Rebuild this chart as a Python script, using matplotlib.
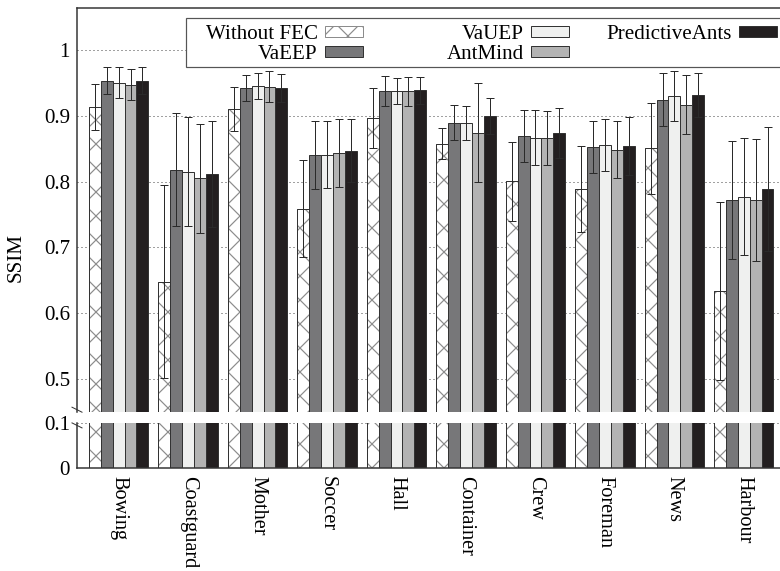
import matplotlib.pyplot as plt
import numpy as np
from matplotlib.patches import Rectangle

plt.rcParams['font.family'] = ['Liberation Serif', 'DejaVu Serif']
plt.rcParams['hatch.linewidth'] = 1.2

videos = ['Bowing', 'Coastguard', 'Mother', 'Soccer', 'Hall',
          'Container', 'Crew', 'Foreman', 'News', 'Harbour']
schemes = ['Without FEC', 'VaEEP', 'VaUEP', 'AntMind', 'PredictiveAnts']

without_fec = [0.914, 0.648, 0.911, 0.759, 0.897, 0.858, 0.801, 0.789, 0.851, 0.634]
without_fec_err = [0.035, 0.147, 0.033, 0.074, 0.046, 0.024, 0.060, 0.065, 0.069, 0.135]
vaeep = [0.954, 0.818, 0.943, 0.841, 0.938, 0.890, 0.870, 0.853, 0.925, 0.772]
vaeep_err = [0.021, 0.086, 0.020, 0.052, 0.023, 0.027, 0.040, 0.040, 0.040, 0.090]
vauep = [0.951, 0.815, 0.946, 0.841, 0.938, 0.890, 0.867, 0.856, 0.930, 0.777]
vauep_err = [0.023, 0.083, 0.020, 0.051, 0.020, 0.026, 0.042, 0.039, 0.038, 0.089]
antmind = [0.948, 0.805, 0.945, 0.844, 0.938, 0.875, 0.867, 0.849, 0.917, 0.772]
antmind_err = [0.023, 0.083, 0.023, 0.052, 0.022, 0.076, 0.041, 0.043, 0.045, 0.093]
pants = [0.954, 0.812, 0.943, 0.847, 0.939, 0.900, 0.874, 0.855, 0.932, 0.789]
pants_err = [0.020, 0.081, 0.021, 0.048, 0.021, 0.028, 0.038, 0.044, 0.034, 0.095]

values = [without_fec, vaeep, vauep, antmind, pants]
errors = [without_fec_err, vaeep_err, vauep_err, antmind_err, pants_err]
colors = ['white', '#777779', '#eff0ef', '#b3b3b3', '#231f20']

W, H = 780, 571
fig = plt.figure(figsize=(W / 72, H / 72), dpi=72)

left = 77 / W
width = 708.5 / W
ax_top = fig.add_axes([left, 1 - 411.7 / H, width, (411.7 - 7.7) / H])
ax_bot = fig.add_axes([left, 1 - 467.7 / H, width, (467.7 - 422.7) / H])

x = np.arange(len(videos))
w = 0.1707
edge = '#333333'
fs = 21

handles = []
for ax in (ax_top, ax_bot):
    for j in range(5):
        pos = x + (j - 2) * w
        if j == 0:
            b = ax.bar(pos, values[j], w, color='white', edgecolor='#8c8c8c',
                       hatch='x', linewidth=1, zorder=2)
            ax.bar(pos, values[j], w, fill=False, edgecolor=edge, linewidth=1, zorder=2.1)
        else:
            b = ax.bar(pos, values[j], w, color=colors[j], edgecolor=edge,
                       linewidth=1, zorder=2)
        if ax is ax_top:
            handles.append(b)
            ax.errorbar(pos, values[j], yerr=errors[j], fmt='none', ecolor='#2a2a2a',
                        elinewidth=1, capsize=4, capthick=1, zorder=3)

for ax in (ax_top, ax_bot):
    ax.set_xlim(-0.6, 9.6)
    ax.set_axisbelow(True)
    ax.yaxis.grid(True, linestyle=(0, (1, 3)), color='#444444', linewidth=1)
    ax.tick_params(axis='y', length=0, pad=7, labelsize=fs)
    ax.tick_params(axis='x', length=0)
    for s in ax.spines.values():
        s.set_color(edge)
        s.set_linewidth(1.5)

ax_top.set_ylim(0.45, 1.065)
ax_top.set_yticks([0.5, 0.6, 0.7, 0.8, 0.9, 1.0])
ax_top.set_yticklabels(['0.5', '0.6', '0.7', '0.8', '0.9', '1'])
ax_top.spines['bottom'].set_visible(False)
ax_top.set_xticks([])

ax_bot.set_ylim(0, 0.1)
ax_bot.set_yticks([0, 0.1])
ax_bot.set_yticklabels(['0', '0.1'])
ax_bot.spines['top'].set_visible(False)
ax_bot.set_xticks(x)
ax_bot.set_xticklabels(videos, rotation=270, fontsize=20.3, va='top', ha='center')
ax_bot.tick_params(axis='x', pad=8)

# axis break marks on the left spine
dx = 5 / 708.5
ax_top.plot([-dx, dx], [(2 + 2.5) / 404, (2 - 2.5) / 404], transform=ax_top.transAxes,
            color=edge, lw=1, clip_on=False)
ax_bot.plot([-dx, dx], [1 + (-2.7 + 2.5) / 45, 1 + (-2.7 - 2.5) / 45],
            transform=ax_bot.transAxes, color=edge, lw=1, clip_on=False)

fig.text(16.5 / W, 1 - 257 / H, 'SSIM', rotation=90, va='center', ha='center', fontsize=fs)

# legend box
fig.add_artist(Rectangle((185.7 / W, 1 - 66.7 / H), (800 - 185.7) / W, (66.7 - 18.3) / H,
                         transform=fig.transFigure, facecolor='white', edgecolor='#555555',
                         linewidth=1.2, zorder=4))
cols = [([0, 1], 362.7), ([2, 3], 569), ([4], 777)]
for idx, xr in cols:
    fig.legend([handles[i] for i in idx], [schemes[i] for i in idx],
               loc='upper right', bbox_to_anchor=(xr / W, 1 - 24.8 / H),
               bbox_transform=fig.transFigure, frameon=False, markerfirst=False,
               borderpad=0, borderaxespad=0, handlelength=1.8, handleheight=0.45,
               handletextpad=0.35, labelspacing=0.05, fontsize=fs)

fig.savefig('out.png', dpi=72)
